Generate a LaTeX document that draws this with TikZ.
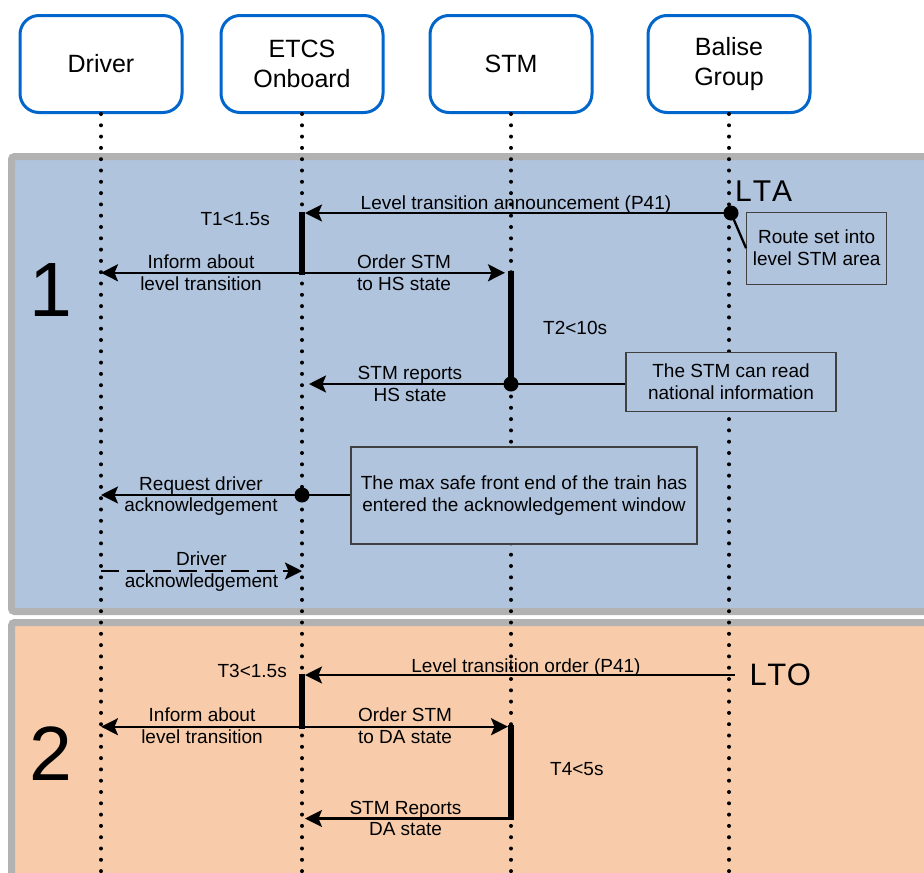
\documentclass[tikz,border=0pt]{standalone}
\usepackage{fontspec}
\setmainfont{Liberation Sans}
\usetikzlibrary{arrows.meta}
\definecolor{panelblue}{HTML}{B0C4DE}
\definecolor{panelorange}{RGB}{248,204,170}
\definecolor{panelgrey}{RGB}{178,178,178}
\definecolor{hdrblue}{RGB}{0,102,204}
\definecolor{notegrey}{RGB}{64,64,64}
\tikzset{
  hdr/.style={draw=hdrblue, line width=3pt, rounded corners=19pt, fill=white,
    minimum width=162pt, minimum height=97pt, align=center, inner sep=0pt,
    font=\fontsize{25}{30.6}\selectfont},
  lifeline/.style={line width=4pt, dash pattern=on 0pt off 11.3pt, line cap=round},
  panel/.style={draw=panelgrey, line width=7pt, rounded corners=3pt},
  msg/.style={line width=2.3pt, -{Stealth[length=17pt,width=17pt,inset=3.5pt]}},
  msgdash/.style={msg, dash pattern=on 18pt off 8pt},
  conn/.style={line width=2.3pt},
  msglbl/.style={font=\fontsize{19}{21.7}\selectfont, align=center, inner sep=0pt},
  notebox/.style={draw=notegrey, line width=1.3pt, fill=panelblue, align=center,
    inner sep=0pt, font=\fontsize{19}{22}\selectfont},
  actbar/.style={line width=6pt},
  evdot/.style={circle, fill=black, minimum size=15pt, inner sep=0pt},
  bignum/.style={font=\fontsize{77}{80}\selectfont, anchor=base, inner sep=0pt},
  levlbl/.style={font=\fontsize{30}{33}\selectfont, anchor=base west, inner sep=0pt},
}
\begin{document}
\begin{tikzpicture}[x=1pt,y=-1pt]
\useasboundingbox (0,0) rectangle (924,873);
\clip (0,0) rectangle (924,873);

% panels
\draw[panel, fill=panelblue] (11.5,156.5) rectangle (990,611.5);
\draw[panel, fill=panelorange] (11.5,622.5) rectangle (990,930);

% headers
\node[hdr] (drv) at (101,64) {Driver};
\node[hdr] (etcs) at (302,64) {ETCS\\Onboard};
\node[hdr] (stm) at (511,64) {STM};
\node[hdr] (bal) at (729,64) {Balise\\Group};

% lifelines
\coordinate (drvE) at (101,885);
\coordinate (etcsE) at (302,885);
\coordinate (stmE) at (511,885);
\coordinate (balE) at (729,885);
\draw[lifeline] (drv.south) -- (drvE);
\draw[lifeline] (etcs.south) -- (etcsE);
\draw[lifeline] (stm.south) -- (stmE);
\draw[lifeline] (bal.south) -- (balE);

% section numbers
\node[bignum] (n1) at (51,316) {1};
\node[bignum] (n2) at (51,780) {2};

% notes
\node[notebox, minimum width=140pt, minimum height=72pt] (route) at (816.7,248.2) {Route set into\\level STM area};
\node[notebox, minimum width=210pt, minimum height=59pt] (nread) at (731,382.2) {The STM can read\\national information};
\node[notebox, minimum width=346pt, minimum height=97pt] (nsafe) at (524,495.5) {The max safe front end of the train has\\entered the acknowledgement window};

% event dots
\node[evdot] (d1) at (731,213) {};
\node[evdot] (d2) at (511,384) {};
\node[evdot] (d3) at (302,495) {};

% ---- section 1 ----
\node[levlbl] (lta) at (735,201.5) {L\kern1pt T\kern1pt A};
\coordinate (a1) at (305,213);
\draw[msg] (d1.center) -- (a1);
\node[msglbl, anchor=base] (l1) at (516,209) {Level transition announcement (P41)};
\draw[conn] (d1.center) -- (route.west);

\coordinate (b1t) at (302,212);
\coordinate (b1b) at (302,274.5);
\draw[actbar] (b1t) -- (b1b);
\node[msglbl, anchor=base east] (t1) at (270,225) {T1<1.5s};

\coordinate (i1s) at (302,272.8);
\coordinate (i1e) at (101,272.8);
\draw[msg] (i1s) -- (i1e);
\node[msglbl] (l2) at (201,272.5) {Inform about\\level transition};

\coordinate (o1e) at (505,272.8);
\draw[msg] (i1s) -- (o1e);
\node[msglbl] (l3) at (404,273) {Order STM\\to HS state};

\coordinate (b2t) at (511,270.7);
\draw[actbar] (b2t) -- (d2.center);
\node[msglbl, anchor=base west] (t2) at (543,334) {T2<10s};

\coordinate (r1e) at (309,384);
\draw[msg] (d2.center) -- (r1e);
\node[msglbl] (l4) at (410,384) {STM reports\\HS state};
\draw[conn] (d2.center) -- (nread.west |- d2.center);

\coordinate (q1e) at (101,495);
\draw[msg] (d3.center) -- (q1e);
\node[msglbl] (l5) at (201,496) {Request driver\\acknowledgement};
\draw[conn] (d3.center) -- (nsafe.west |- d3.center);

\coordinate (k1s) at (101,571);
\coordinate (k1e) at (302,571);
\draw[msgdash] (k1s) -- (k1e);
\node[msglbl] (l6) at (201.5,571.5) {Driver\\acknowledgement};

% ---- section 2 ----
\node[levlbl, font=\fontsize{31}{34}\selectfont] (lto) at (749.5,685.5) {L\kern0.5pt T\kern0.5pt O};
\coordinate (o2s) at (735,675);
\coordinate (o2e) at (305,675);
\draw[msg] (o2s) -- (o2e);
\node[msglbl, anchor=base] (l7) at (526,672) {Level transition order (P41)};

\coordinate (b3t) at (302,673.5);
\coordinate (b3b) at (302,728.5);
\draw[actbar] (b3t) -- (b3b);
\node[msglbl, anchor=base east] (t3) at (287,677.5) {T3<1.5s};

\coordinate (i2s) at (302,726.7);
\coordinate (i2e) at (101,726.7);
\draw[msg] (i2s) -- (i2e);
\node[msglbl] (l8) at (202,725.5) {Inform about\\level transition};

\coordinate (o3e) at (508,726.7);
\draw[msg] (i2s) -- (o3e);
\node[msglbl] (l9) at (405,726) {Order STM\\to DA state};

\coordinate (b4t) at (511,725);
\coordinate (b4b) at (511,819.5);
\draw[actbar] (b4t) -- (b4b);
\node[msglbl, anchor=base west] (t4) at (550,775) {T4<5s};

\coordinate (r2s) at (511,818.5);
\coordinate (r2e) at (305,818.5);
\draw[msg] (r2s) -- (r2e);
\node[msglbl] (l10) at (405.5,818.5) {STM Reports\\DA state};
\end{tikzpicture}
\end{document}
